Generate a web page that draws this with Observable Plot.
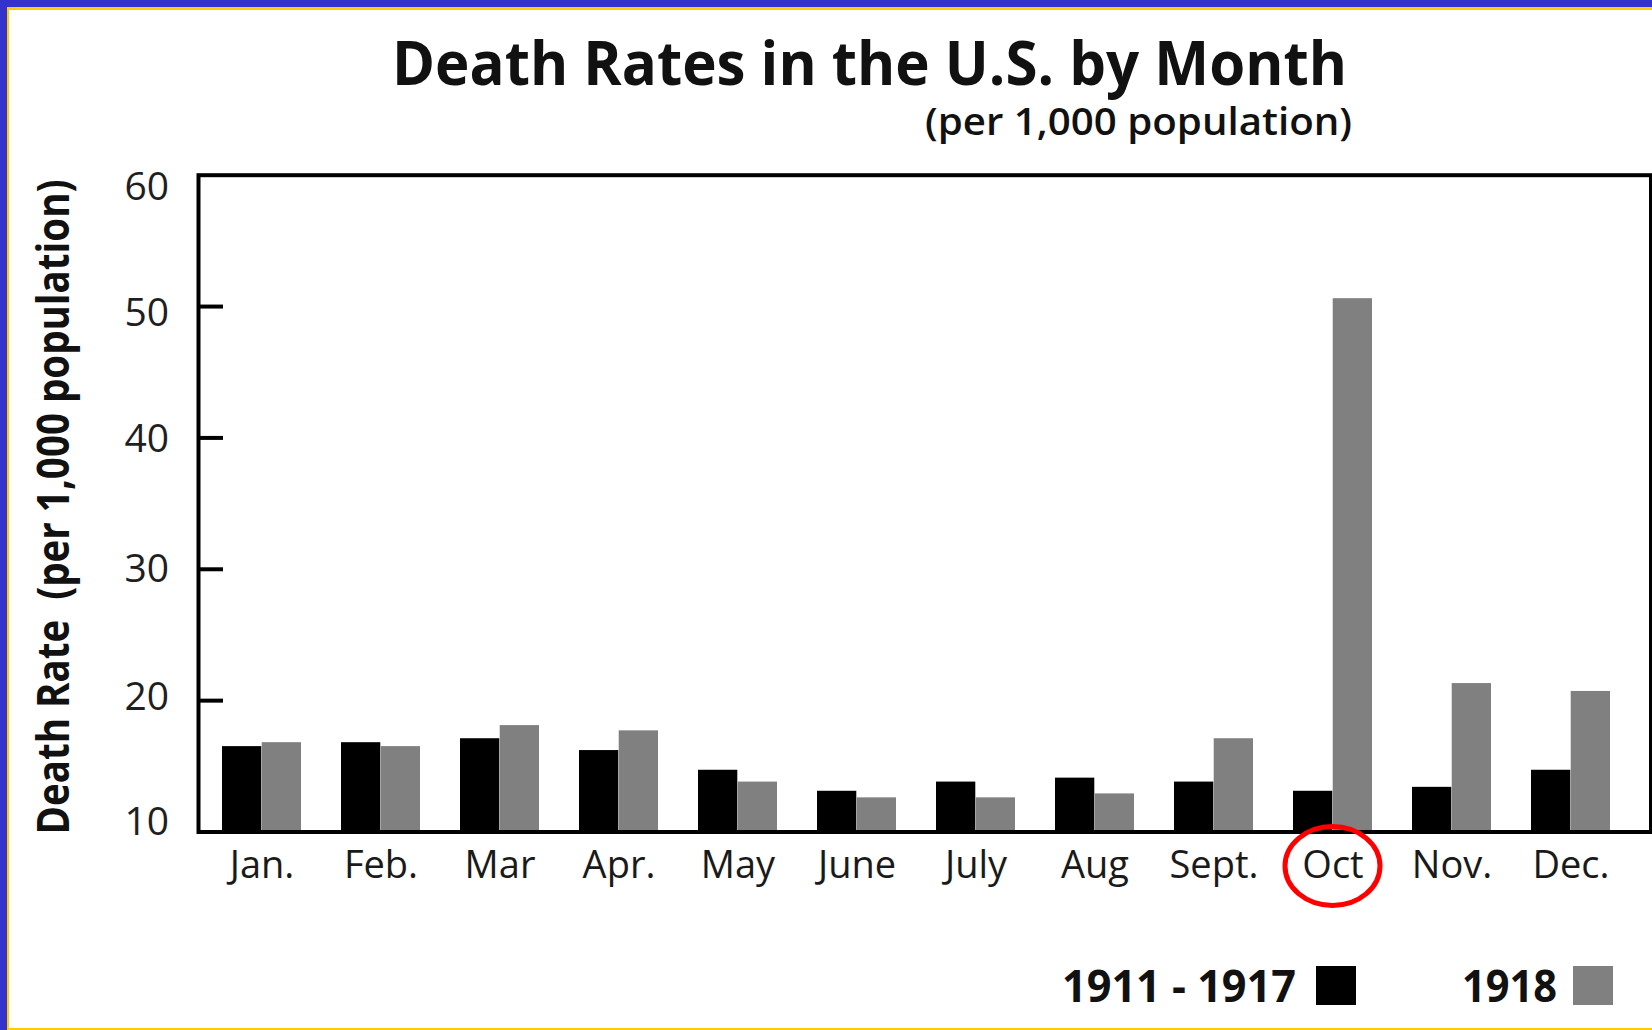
<!DOCTYPE html>
<html>
<head>
<meta charset="utf-8">
<script src="https://cdn.jsdelivr.net/npm/d3@7"></script>
<script src="https://cdn.jsdelivr.net/npm/@observablehq/plot@0.6"></script>
<style>
  html, body { margin: 0; padding: 0; background: #fff; }
  #page { position: relative; width: 1652px; height: 1030px; overflow: hidden; background: #fff; }
  .bd { position: absolute; }
</style>
</head>
<body>
<div id="page"></div>
<script>
// ---------- data ----------
const months = ["Jan.", "Feb.", "Mar", "Apr.", "May", "June", "July", "Aug", "Sept.", "Oct", "Nov.", "Dec."];
const avg1911to1917 = [16.5, 16.8, 17.1, 16.2, 14.7, 13.1, 13.8, 14.1, 13.8, 13.1, 13.4, 14.7];
const rate1918 = [16.8, 16.5, 18.1, 17.7, 13.8, 12.6, 12.6, 12.9, 17.1, 50.6, 21.3, 20.7];
const seriesNames = ["1911 - 1917", "1918"];
const seriesColors = ["#000000", "#808080"];
const yTicks = [10, 20, 30, 40, 50, 60];
const innerTicks = [20, 30, 40, 50];
const titleText = "Death Rates in the U.S. by Month";
const subtitleText = "(per 1,000 population)";
const yLabelText = "Death Rate  (per 1,000 population)";
const highlightMonth = "Oct";

const FONT = '"Open Sans", "Noto Sans", sans-serif';
const page = document.getElementById("page");

// ---------- page border ----------
function bar(l, t, w, h, c) {
  const d = document.createElement("div");
  d.className = "bd";
  Object.assign(d.style, {left: l + "px", top: t + "px", width: w + "px", height: h + "px", background: c});
  page.appendChild(d);
}
bar(0, 0, 1652, 7, "#3333cc");
bar(0, 0, 7, 1030, "#3333cc");
bar(7, 7, 1645, 3, "#ffcc00");
bar(7, 7, 2, 1023, "#ffcc00");
bar(7, 1028, 1645, 2, "#ffcc00");

// ---------- header (title + subtitle) ----------
const header = d3.create("svg").attr("width", 1652).attr("height", 150)
  .style("position", "absolute").style("left", "0px").style("top", "0px")
  .style("font-family", FONT);
header.append("text").text(titleText)
  .attr("x", 392).attr("y", 85)
  .attr("font-size", 61).attr("font-weight", "bold").attr("fill", "#111")
  .attr("textLength", 955).attr("lengthAdjust", "spacingAndGlyphs");
header.append("text").text(subtitleText)
  .attr("x", 1352).attr("y", 135).attr("text-anchor", "end")
  .attr("font-size", 37).attr("font-weight", 600).attr("fill", "#111")
  .attr("textLength", 427).attr("lengthAdjust", "spacingAndGlyphs");
page.appendChild(header.node());

// ---------- chart ----------
const W = 1652, H = 770;
const mL = 198, mR = 1.5, mT = 24.7, mB = 88.5;
const frameW = W - mL - mR;
const xInsetL = 22, xInsetR = 37.5, padIn = 0.335;
const step = (frameW - xInsetL - xInsetR) / (months.length - padIn);
const bandW = step * (1 - padIn);
// the original's tick labels sit slightly inside the 10–60 span
const labelNudge = {10: -9, 20: -3, 30: 0, 40: 2, 50: 7, 60: 12};

const plot = Plot.plot({
  width: W,
  height: H,
  marginLeft: mL,
  marginRight: mR,
  marginTop: mT,
  marginBottom: mB,
  style: {fontFamily: FONT, background: "transparent", color: "#1a1a1a", overflow: "visible"},
  x: {type: "band", domain: months, paddingInner: padIn, paddingOuter: 0, insetLeft: xInsetL, insetRight: xInsetR},
  y: {domain: [10, 60]},
  marks: [
    Plot.barY(months, {x: months, y1: 10, y2: avg1911to1917, fill: seriesColors[0], insetRight: bandW / 2}),
    Plot.barY(months, {x: months, y1: 10, y2: rate1918, fill: seriesColors[1], insetLeft: bandW / 2}),
    Plot.frame({stroke: "#000", strokeWidth: 4}),
    Plot.ruleY(innerTicks, {stroke: "#000", strokeWidth: 4, insetRight: frameW - 25}),
    ...yTicks.map(t => Plot.axisY({ticks: [t], tickSize: 0, tickPadding: 29.5, fontSize: 39,
      fill: "#1f1f1f", label: null, dy: labelNudge[t]})),
    Plot.axisX({tickSize: 0, tickPadding: 19, fontSize: 38, fill: "#1a1a1a", label: null}),
    Plot.text([yLabelText], {text: d => d, frameAnchor: "bottom-left", rotate: -90, textAnchor: "start",
      dx: -130, dy: 2.5, fontSize: 44, fontWeight: "bold", fill: "#111"})
  ]
});

// squeeze the axis title to the reference length
d3.select(plot).selectAll("text")
  .filter(function () { return this.textContent === yLabelText; })
  .attr("textLength", 655).attr("lengthAdjust", "spacingAndGlyphs").style("white-space", "pre");

// red ellipse around the highlighted month label
const xs = plot.scale("x"), ys = plot.scale("y");
d3.select(plot).append("ellipse")
  .attr("cx", xs.apply(highlightMonth) + xs.bandwidth / 2)
  .attr("cy", ys.apply(10) + 34.5)
  .attr("rx", 47.5).attr("ry", 39.5)
  .attr("fill", "none").attr("stroke", "#ff0000").attr("stroke-width", 5);

plot.style.position = "absolute";
plot.style.left = "0px";
plot.style.top = "150px";
page.appendChild(plot);

// ---------- legend ----------
const legend = d3.create("svg").attr("width", 1652).attr("height", 110)
  .style("position", "absolute").style("left", "0px").style("top", "920px")
  .style("font-family", FONT);
const legendTextX = [1062, 1462], legendTextW = [234, 95], legendSwatchX = [1316, 1573];
seriesNames.forEach((name, i) => {
  legend.append("text").text(name)
    .attr("x", legendTextX[i]).attr("y", 82)
    .attr("font-size", 44).attr("font-weight", "bold").attr("fill", "#111")
    .attr("textLength", legendTextW[i]).attr("lengthAdjust", "spacingAndGlyphs");
  legend.append("rect")
    .attr("x", legendSwatchX[i]).attr("y", 46).attr("width", 40).attr("height", 39)
    .attr("fill", seriesColors[i]);
});
page.appendChild(legend.node());
</script>
</body>
</html>
